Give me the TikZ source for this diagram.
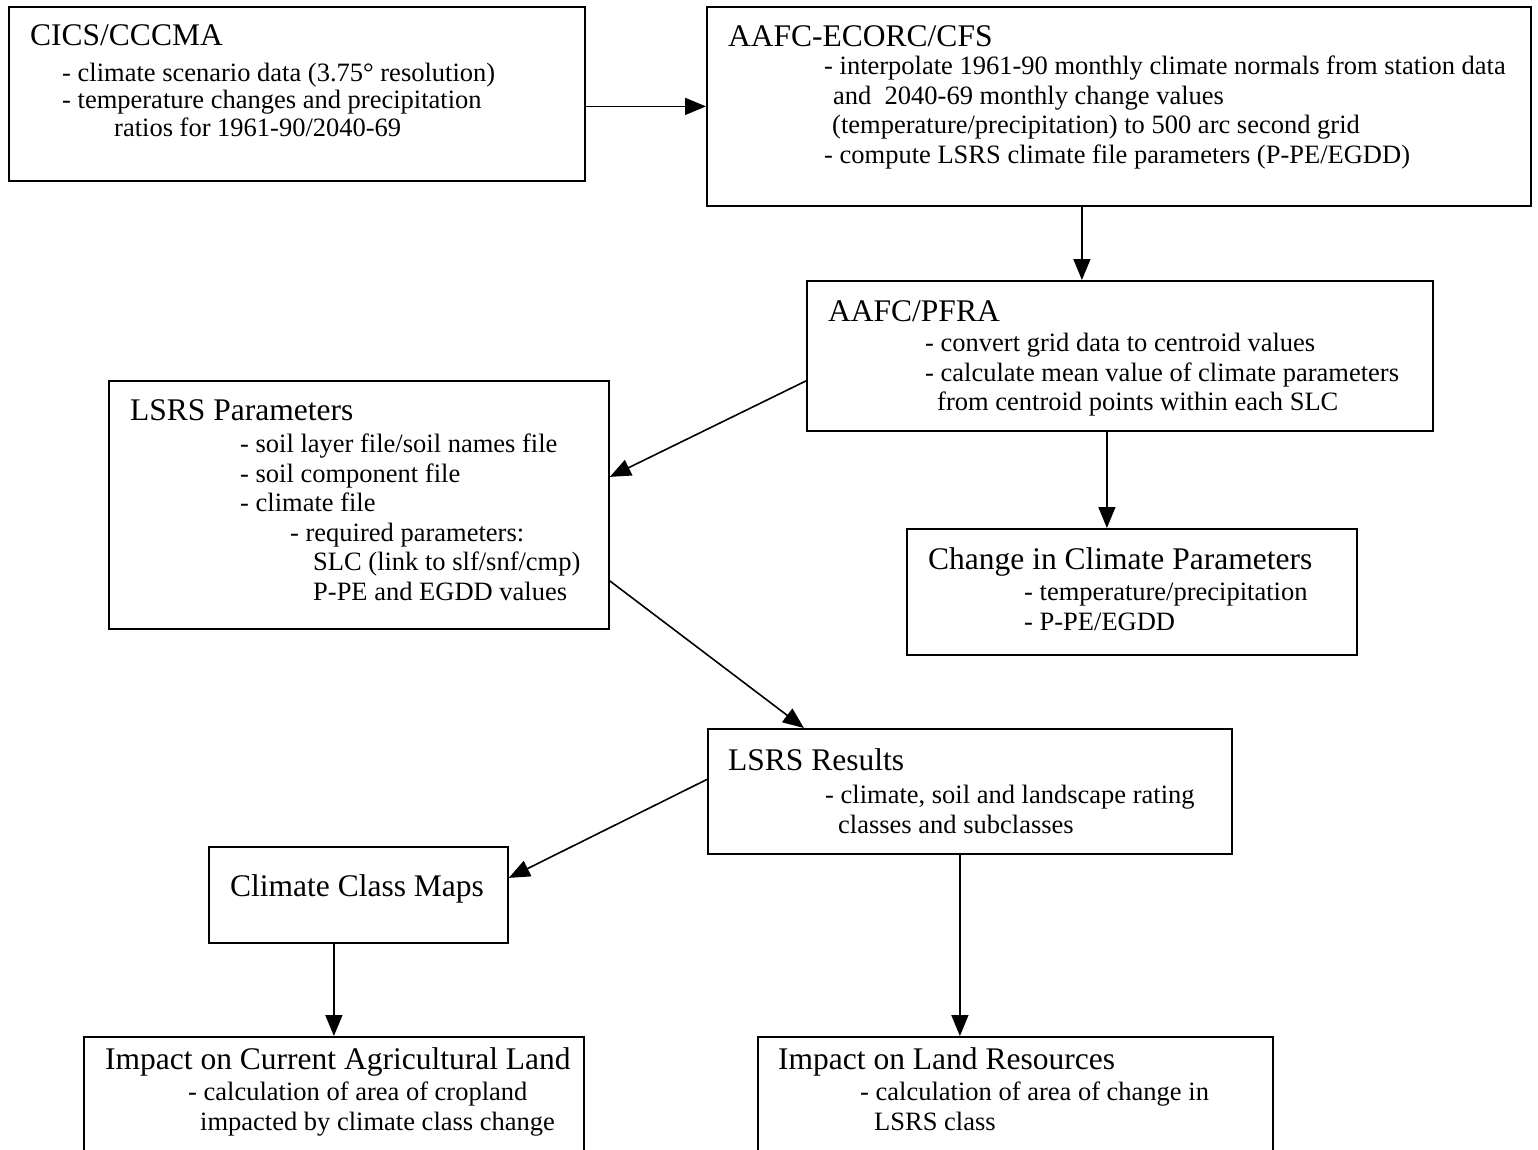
\documentclass[tikz,border=0pt]{standalone}
\usepackage{fontspec}
\setmainfont{Liberation Serif}
\usetikzlibrary{arrows.meta}

\begin{document}
\begin{tikzpicture}[x=1pt,y=-1pt]
\tikzstyle{box}=[draw, line width=1.8pt, anchor=north west, inner sep=0pt]
\tikzstyle{hd}=[anchor=base west, inner sep=0pt, font=\fontsize{31.5}{36}\selectfont]
\tikzstyle{txt}=[anchor=north west, inner sep=0pt, align=left, font=\fontsize{26.5}{29.5}\selectfont]
\tikzstyle{arr}=[line width=1.6pt, -{Triangle[length=21pt,width=17pt]}]

\useasboundingbox (0,0) rectangle (1538,1149);

\node[box, minimum width=576pt, minimum height=174pt] (cics) at (8,6) {};
\node[hd] (cicsT) at (30,45) {CICS/CCCMA};
\node[txt, font=\fontsize{26.5}{27.5}\selectfont] (cicsB) at (62,62) {\strut- climate scenario data (3.75° resolution)\\
- temperature changes and precipitation\\
\hspace*{52pt}ratios for 1961-90/2040-69};

\node[box, minimum width=824pt, minimum height=199pt] (ecorc) at (706,6) {};
\node[hd] (ecorcT) at (728,46) {AAFC-ECORC/CFS};
\node[txt] (ecorcB) at (824,54) {\strut- interpolate 1961-90 monthly climate normals from station data\\
\hspace*{9pt}and~ 2040-69 monthly change values\\
\hspace*{8pt}(temperature/precipitation) to 500 arc second grid\\
- compute LSRS climate file parameters (P-PE/EGDD)};

\node[box, minimum width=626pt, minimum height=150pt] (pfra) at (806,280) {};
\node[hd] (pfraT) at (828,321) {AAFC/PFRA};
\node[txt] (pfraB) at (925,331) {\strut- convert grid data to centroid values\\
- calculate mean value of climate parameters\\
\hspace*{12pt}from centroid points within each SLC};

\node[box, minimum width=500pt, minimum height=248pt] (params) at (108,380) {};
\node[hd] (paramsT) at (130,420) {LSRS Parameters};
\node[txt] (paramsB) at (240,432) {\strut- soil layer file/soil names file\\
- soil component file\\
- climate file\\
\hspace*{50pt}- required parameters:\\
\hspace*{73pt}SLC (link to slf/snf/cmp)\\
\hspace*{73pt}P-PE and EGDD values};

\node[box, minimum width=450pt, minimum height=126pt] (change) at (906,528) {};
\node[hd] (changeT) at (928,569) {Change in Climate Parameters};
\node[txt] (changeB) at (1024,580) {\strut- temperature/precipitation\\
- P-PE/EGDD};

\node[box, minimum width=524pt, minimum height=125pt] (results) at (707,728) {};
\node[hd] (resultsT) at (728,770) {LSRS Results};
\node[txt] (resultsB) at (825,783) {\strut- climate, soil and landscape rating\\
\hspace*{13pt}classes and subclasses};

\node[box, minimum width=299pt, minimum height=96pt] (maps) at (208,846) {};
\node[hd] (mapsT) at (230,896) {Climate Class Maps};

\node[box, minimum width=500pt, minimum height=150pt] (impcur) at (83,1036) {};
\node[hd] (impcurT) at (105,1069) {Impact on Current Agricultural Land};
\node[txt] (impcurB) at (188,1080) {\strut- calculation of area of cropland\\
\hspace*{12pt}impacted by climate class change};

\node[box, minimum width=515pt, minimum height=150pt] (impland) at (757,1036) {};
\node[hd] (implandT) at (778,1069) {Impact on Land Resources};
\node[txt] (implandB) at (860,1080) {\strut- calculation of area of change in\\
\hspace*{14pt}LSRS class};

\draw[arr] (ecorc.west -| cics.east) -- (ecorc.west);
\draw[arr] ([xshift=-38pt]pfra.north |- ecorc.south) -- ([xshift=-38pt]pfra.north);
\draw[arr] ([yshift=-25pt]pfra.west) -- ([yshift=28pt]params.east);
\draw[arr] ([xshift=-25pt]change.north |- pfra.south) -- ([xshift=-25pt]change.north);
\draw[arr] ([yshift=-76pt]params.east) -- ([xshift=-166pt]results.north);
\draw[arr] ([yshift=12pt]results.west) -- ([yshift=17pt]maps.east);
\draw[arr] (impcur.north |- maps.south) -- (impcur.north);
\draw[arr] ([xshift=-10pt]results.south) -- ([xshift=-10pt]results.south |- impland.north);
\end{tikzpicture}
\end{document}
